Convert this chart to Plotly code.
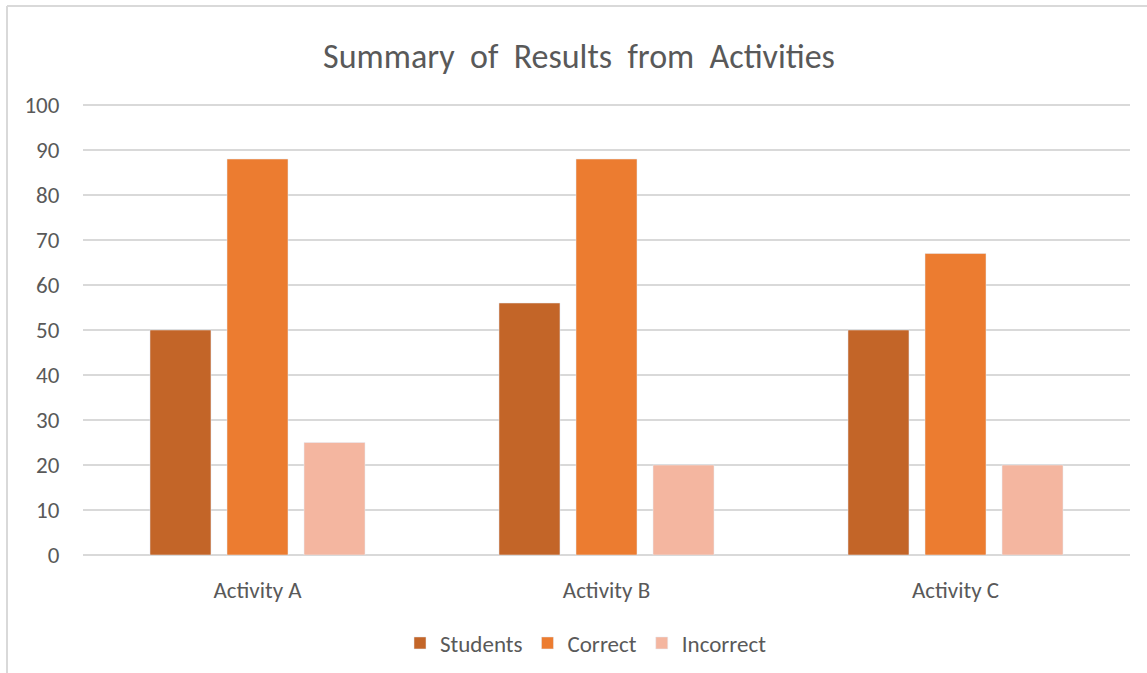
import plotly.graph_objects as go

categories = ["Activity A", "Activity B", "Activity C"]
students = [50, 56, 50]
correct = [88, 88, 67]
incorrect = [25, 20, 20]
y_ticks = [0, 10, 20, 30, 40, 50, 60, 70, 80, 90, 100]

W, H = 1147, 673
L, R, T, B = 83, 17, 103, 118
pw, ph = W - L - R, H - T - B

fig = go.Figure()
fig.add_trace(go.Bar(name="Students", x=categories, y=students, marker_color="#C36528"))
fig.add_trace(go.Bar(name="Correct", x=categories, y=correct, marker_color="#EC7C30"))
fig.add_trace(go.Bar(name="Incorrect", x=categories, y=incorrect, marker_color="#F4B6A0"))

font = "Carlito, Calibri, 'Open Sans', sans-serif"
fig.update_layout(
    width=W, height=H,
    margin=dict(l=L, r=R, t=T, b=B, autoexpand=False),
    paper_bgcolor="white", plot_bgcolor="white",
    barmode="group", bargap=0.338, bargroupgap=0.208,
    title=dict(text="Summary  of  Results  from  Activities", x=(579 - L) / pw, xref="paper",
               xanchor="center", y=1 - 56 / H, yanchor="middle",
               font=dict(family=font, size=34, color="#595959")),
    font=dict(family=font, color="#595959", size=23),
    legend=dict(orientation="h", x=(586 - L) / pw, xanchor="center",
                yref="container", y=1 - 643 / H, yanchor="middle",
                font=dict(size=23, color="#595959"), traceorder="normal", itemwidth=30),
    xaxis=dict(showgrid=False, showline=False, ticks="", tickfont=dict(size=23, color="#595959"),
               ticklabelstandoff=19, automargin=False),
    yaxis=dict(range=[0, 100.45], tickvals=y_ticks, showgrid=True, gridcolor="#D9D9D9", gridwidth=1.5,
               zeroline=True, zerolinecolor="#D9D9D9", zerolinewidth=1.5,
               tickfont=dict(size=23, color="#595959"), ticklen=0, ticks="outside", tickcolor="white",
               ticklabelstandoff=18, automargin=False),
    shapes=[
        dict(type="line", xref="paper", yref="paper", x0=(7 - L) / pw, x1=(W + 5 - L) / pw,
             y0=(H - B - 6) / ph, y1=(H - B - 6) / ph, line=dict(color="#D9D9D9", width=2)),
        dict(type="line", xref="paper", yref="paper", x0=(7 - L) / pw, x1=(7 - L) / pw,
             y0=(H - B - 6) / ph, y1=-(B + 5) / ph, line=dict(color="#D9D9D9", width=2)),
    ],
)
fig.write_html("out.html")
